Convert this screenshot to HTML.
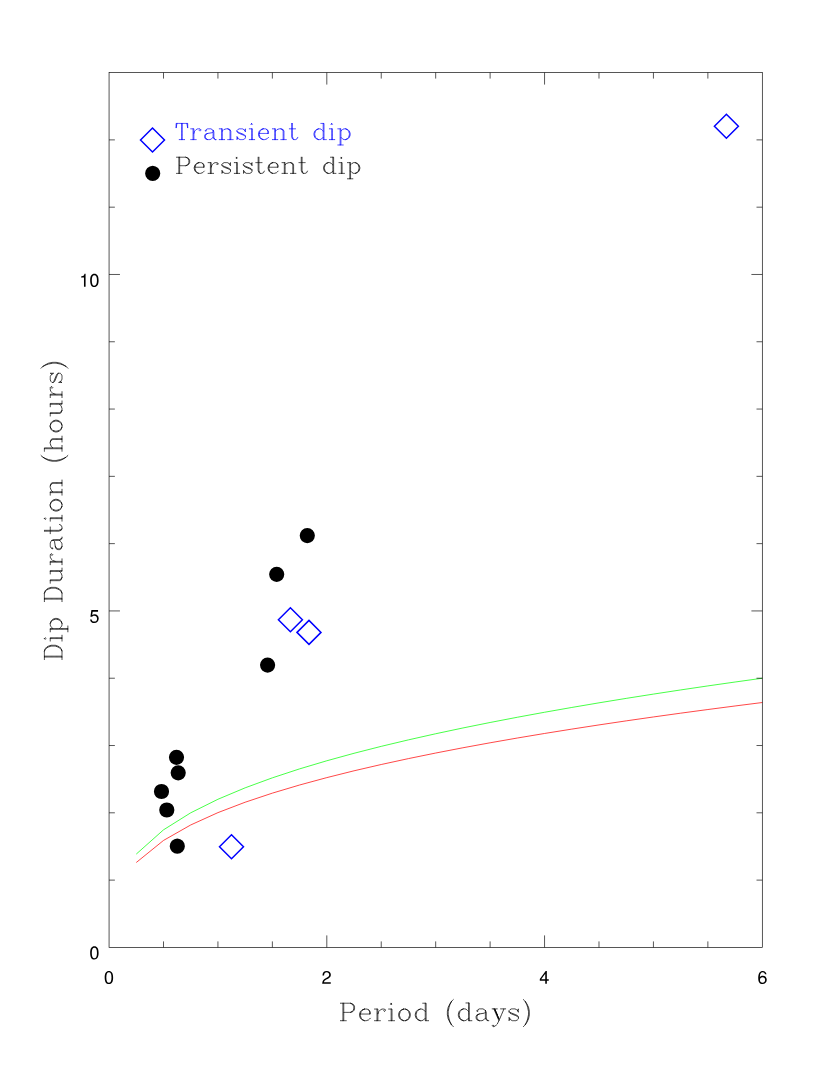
<!DOCTYPE html>
<html><head><meta charset="utf-8"><title>Dip duration vs period</title>
<style>
html,body{margin:0;padding:0;background:#fff;}
body{width:830px;height:1075px;overflow:hidden;font-family:"Liberation Sans",sans-serif;}
svg{display:block}
</style></head><body>
<svg width="830" height="1075" viewBox="0 0 830 1075" role="img" aria-label="Dip Duration (hours) versus Period (days): transient and persistent dips">
<rect width="830" height="1075" fill="#fff"/>
<defs>
<path id="g0" d="M11 -25l-1 1l-1 1l-1 2l-1 2l-1 3l-1 5l0 1l0 1l0 1l0 1l1 5l1 3l1 2l1 2l-2 -3l-1 -2l-1 -2l-1 -5l0 -1l0 -1l0 -1l0 -1l1 -5l1 -2l1 -2l2 -3M9 5l1 1l1 1"/>
<path id="g1" d="M3 -25l1 1l1 1l1 2l1 2l1 3l1 5l0 1l0 1l0 1l0 1l-1 5l-1 3l-1 2l-1 2l2 -3l1 -2l1 -2l1 -5l0 -1l0 -1l0 -1l0 -1l-1 -5l-1 -2l-1 -2l-2 -3M5 5l-1 1l-1 1"/>
<path id="g2" d="M2 -21l1 0l1 0l1 0l1 0l1 0l1 0l1 0l1 0l1 0l1 0l2 1l1 1l1 1l1 2l1 3l0 1l0 1l0 1l0 1l0 1l-1 3l-1 2l-1 1l-1 1l-2 1l3 -1l1 -1l1 -1l1 -2l1 -3l0 -1l0 -1l0 -1l0 -1l0 -1l-1 -3l-1 -2l-1 -1l-1 -1l-3 -1M5 -21l0 1l0 1l0 1l0 1l0 1l0 1l0 1l0 1l0 1l0 1l0 1l0 1l0 1l0 1l0 1l0 1l0 1l0 1l0 1l0 1l0 1l-1 0l-1 0l-1 0M6 -21l0 1l0 1l0 1l0 1l0 1l0 1l0 1l0 1l0 1l0 1l0 1l0 1l0 1l0 1l0 1l0 1l0 1l0 1l0 1l0 1l0 1l-1 0M6 0l1 0l1 0l1 0l1 0l1 0l1 0"/>
<path id="g3" d="M2 -21l1 0l1 0l1 0l1 0l1 0l1 0l1 0l1 0l1 0l1 0l1 0l1 0l2 1l1 1l1 2l0 1l0 1l0 1l-1 2l-1 1l-2 1l3 -1l1 -1l1 -2l0 -1l0 -1l0 -1l-1 -2l-1 -1l-3 -1M5 -21l0 1l0 1l0 1l0 1l0 1l0 1l0 1l0 1l0 1l0 1l0 1l0 1l0 1l0 1l0 1l0 1l0 1l0 1l0 1l0 1l0 1l-1 0l-1 0l-1 0M6 -21l0 1l0 1l0 1l0 1l0 1l0 1l0 1l0 1l0 1l0 1l0 1l1 0l1 0l1 0l1 0l1 0l1 0l1 0l1 0M6 -10l0 1l0 1l0 1l0 1l0 1l0 1l0 1l0 1l0 1l0 1l-1 0M6 0l1 0l1 0l1 0"/>
<path id="g4" d="M3 -21l-1 0l0 1l0 1l0 1l0 1l0 1l0 1l1 -6l1 0l1 0l1 0l1 0l1 0l1 0l1 0l1 0l1 0l1 0l1 0l1 0l1 0l1 0l0 1l0 1l0 1l0 1l0 1l0 1l-1 -6M9 -21l0 1l0 1l0 1l0 1l0 1l0 1l0 1l0 1l0 1l0 1l0 1l0 1l0 1l0 1l0 1l0 1l0 1l0 1l0 1l0 1l0 1l-1 0l-1 0l-1 0M10 -21l0 1l0 1l0 1l0 1l0 1l0 1l0 1l0 1l0 1l0 1l0 1l0 1l0 1l0 1l0 1l0 1l0 1l0 1l0 1l0 1l0 1l-1 0M10 0l1 0l1 0l1 0"/>
<path id="g5" d="M14 -12l-1 -1l-2 -1l-1 0l-1 0l-1 0l-1 0l-2 1l-1 1l0 1l1 0l0 -1M14 -12l0 1l0 1l-1 1l-6 1l-3 1l-1 2l0 1l0 1l1 2l3 1l-2 -1l-1 -2l0 -1l0 -1l1 -2l2 -1M14 -12l1 2l0 1l0 1l0 1l0 1l0 1l0 1l0 1l1 2l1 1l-2 -1l-1 -2l0 -1l0 -1l0 -1l0 -1l0 -1l0 -1l0 -1M14 -3l-1 1l-1 1l-2 1l-1 0l-1 0l-1 0M17 0l1 0"/>
<path id="g6" d="M12 -21l1 0l1 0l1 0l1 0l0 1l0 1l0 1l0 1l0 1l0 1l0 1l0 1l0 1l0 1l0 1l0 1l0 1l0 1l0 1l0 1l0 1l0 1l0 1l0 1l0 1l-1 0l0 -1l0 -1l0 -1l0 -1l0 -1l0 -1l0 -1l0 -1l0 -1l0 -1l0 -1l-1 -1l-1 -1l-2 -1l-1 0l-1 0l-3 1l-1 1l-1 1l-1 3l0 1l0 1l1 3l1 1l1 1l3 1l-2 -1l-1 -1l-1 -1l-1 -3l0 -1l0 -1l1 -3l1 -1l1 -1l2 -1M15 -21l0 1l0 1l0 1l0 1l0 1l0 1l0 1l0 1l0 1l0 1M15 -3l-1 1l-1 1l-2 1l-1 0l-1 0M16 0l1 0l1 0l1 0"/>
<path id="g7" d="M9 -14l1 0l1 0l1 0l2 1l1 1l1 2l0 1l0 1l-1 0l0 -1l0 -1l0 -1l-1 -2M9 -14l-3 1l-1 1l-1 1l-1 3l0 1l0 1l1 3l1 1l1 1l3 1l-2 -1l-1 -1l-1 -1l-1 -3l0 -1l0 -1l1 -3l1 -1l1 -1l2 -1M4 -8l1 0l1 0l1 0l1 0l1 0l1 0l1 0l1 0l1 0l1 0l1 0M16 -3l-1 1l-1 1l-3 1l-1 0l-1 0"/>
<path id="g8" d="M2 -21l1 0l1 0l1 0l1 0l0 1l0 1l0 1l0 1l0 1l0 1l0 1l0 1l0 1l0 1l1 -1l1 -1l3 -1l1 0l1 0l2 1l1 2l0 1l0 1l0 1l0 1l0 1l0 1l0 1l0 1l0 1l0 1l0 1l-1 0l-1 0l-1 0M5 -21l0 1l0 1l0 1l0 1l0 1l0 1l0 1l0 1l0 1l0 1l0 1l0 1l0 1l0 1l0 1l0 1l0 1l0 1l0 1l0 1l0 1l-1 0l-1 0l-1 0M13 -14l3 1l1 2l0 1l0 1l0 1l0 1l0 1l0 1l0 1l0 1l0 1l0 1l0 1l-1 0M6 -11l0 1l0 1l0 1l0 1l0 1l0 1l0 1l0 1l0 1l0 1l0 1l-1 0M6 0l1 0l1 0l1 0M17 0l1 0l1 0l1 0"/>
<path id="g9" d="M2 -14l1 0l1 0l1 0l1 0l0 1l0 1l0 1l0 1l0 1l0 1l0 1l0 1l0 1l0 1l0 1l0 1l0 1l0 1l-1 0l0 -1l0 -1l0 -1l0 -1l0 -1l0 -1l0 -1l0 -1l0 -1l0 -1l0 -1l0 -1l0 -1l0 -1M5 0l-1 0l-1 0l-1 0M6 0l1 0l1 0l1 0M5 -21l-1 1l1 1l1 -1l-1 -1"/>
<path id="g10" d="M2 -14l1 0l1 0l1 0l1 0l0 1l0 1l0 1l1 -1l1 -1l3 -1l1 0l1 0l2 1l1 2l0 1l0 1l0 1l0 1l0 1l0 1l0 1l0 1l0 1l0 1l0 1l-1 0l-1 0l-1 0M5 -14l0 1l0 1l0 1l0 1l0 1l0 1l0 1l0 1l0 1l0 1l0 1l0 1l0 1l0 1l-1 0l-1 0l-1 0M13 -14l3 1l1 2l0 1l0 1l0 1l0 1l0 1l0 1l0 1l0 1l0 1l0 1l0 1l-1 0M6 -11l0 1l0 1l0 1l0 1l0 1l0 1l0 1l0 1l0 1l0 1l0 1l-1 0M6 0l1 0l1 0l1 0M17 0l1 0l1 0l1 0"/>
<path id="g11" d="M9 -14l1 0l1 0l2 1l1 1l1 1l1 3l0 1l0 1l-1 3l-1 1l-1 1l-2 1l3 -1l1 -1l1 -1l1 -3l0 -1l0 -1l-1 -3l-1 -1l-1 -1l-3 -1M9 -14l-3 1l-1 1l-1 1l-1 3l0 1l0 1l1 3l1 1l1 1l3 1l-2 -1l-1 -1l-1 -1l-1 -3l0 -1l0 -1l1 -3l1 -1l1 -1l2 -1M9 0l1 0l1 0"/>
<path id="g12" d="M2 -14l1 0l1 0l1 0l1 0l0 1l0 1l0 1l1 -1l1 -1l2 -1l1 0l1 0l2 1l1 1l1 1l1 3l0 1l0 1l-1 3l-1 1l-1 1l-2 1l3 -1l1 -1l1 -1l1 -3l0 -1l0 -1l-1 -3l-1 -1l-1 -1l-3 -1M5 -14l0 1l0 1l0 1l0 1l0 1l0 1l0 1l0 1l0 1l0 1l0 1l0 1l0 1l0 1l0 1l0 1l0 1l0 1l0 1l0 1l0 1l-1 0l-1 0l-1 0M6 -11l0 1l0 1l0 1l0 1l0 1l0 1l0 1l0 1l0 1l0 1l0 1l0 1l0 1l0 1l0 1l0 1l0 1l0 1l-1 0M6 -3l1 1l1 1l2 1l1 0l1 0M6 7l1 0l1 0l1 0"/>
<path id="g13" d="M2 -14l1 0l1 0l1 0l1 0l0 1l0 1l0 1l0 1l0 1l0 1l1 -3l1 -1l1 -1l2 -1l1 0l1 0l1 0l1 1l0 1l-1 1l-1 -1l1 -1M5 -14l0 1l0 1l0 1l0 1l0 1l0 1l0 1l0 1l0 1l0 1l0 1l0 1l0 1l0 1l-1 0l-1 0l-1 0M6 -8l0 1l0 1l0 1l0 1l0 1l0 1l0 1l0 1l-1 0M6 0l1 0l1 0l1 0"/>
<path id="g14" d="M13 -12l1 -2l0 1l0 1l0 1l0 1l-1 -2l-1 -1l-2 -1l-1 0l-1 0l-1 0l-1 0l-2 1l-1 1l0 1l0 1l1 1l2 1l5 2l2 1l1 1l0 -1l-1 -1l-2 -1l-5 -2l-2 -1l-1 -1M14 -4l0 1l0 1l-1 1l-2 1l-1 0l-1 0l-1 0l-1 0l-2 -1l-1 -1l-1 -2l0 1l0 1l0 1l0 1l1 -2"/>
<path id="g15" d="M5 -21l0 1l0 1l0 1l0 1l0 1l0 1l0 1l-1 0l-1 0l-1 0M6 -21l0 1l0 1l0 1l0 1l0 1l0 1l0 1l-1 0l0 1l0 1l0 1l0 1l0 1l0 1l0 1l0 1l0 1l0 1l1 3l2 1l-1 -1l-1 -3l0 -1l0 -1l0 -1l0 -1l0 -1l0 -1l0 -1l0 -1l0 -1l0 -1l1 0l1 0l1 0l1 0M13 -3l-1 2l-2 1l-1 0l-1 0"/>
<path id="g16" d="M2 -14l1 0l1 0l1 0l1 0l0 1l0 1l0 1l0 1l0 1l0 1l0 1l0 1l0 1l0 1l0 1l1 2l2 1l-3 -1l-1 -2l0 -1l0 -1l0 -1l0 -1l0 -1l0 -1l0 -1l0 -1l0 -1l0 -1l0 -1M13 -14l1 0l1 0l1 0l1 0l0 1l0 1l0 1l0 1l0 1l0 1l0 1l0 1l0 1l0 1l0 1l0 1l0 1l0 1l-1 0l0 -1l0 -1l0 -1l0 -1l0 -1l0 -1l0 -1l0 -1l0 -1l0 -1l0 -1l0 -1l0 -1l0 -1M16 -3l-1 1l-1 1l-3 1l-1 0l-1 0M17 0l1 0l1 0l1 0"/>
<path id="g17" d="M2 -14l1 0l1 0l1 0l1 0l1 0l1 0M4 -14l3 7l3 7l3 -7l3 -7l-1 0l-1 0l-1 0l-1 0M5 -14l2 5l1 2l-3 -7l5 12l-3 -7M8 -7l2 5M16 -14l1 0l1 0M10 0l-1 2l-1 2l-1 1l-1 1l-2 1l-1 0l-1 -1l1 -1l1 1"/>
<path id="d0" d="M507 341C507 587 429 709 275 709C122 709 43 585 43 347C43 108 123 -15 275 -15C425 -15 507 108 507 341ZM417 349C417 148 371 58 273 58C180 58 133 152 133 346C133 540 180 631 275 631C370 631 417 539 417 349Z"/>
<path id="d1" d="M347 0V709H289C258 600 238 585 102 568V505H259V0Z"/>
<path id="d2" d="M511 501C511 621 418 709 284 709C139 709 55 635 50 463H138C145 582 194 632 281 632C361 632 421 575 421 499C421 443 388 395 325 359L233 307C85 223 42 156 34 0H506V87H133C142 145 174 182 261 233L361 287C460 340 511 414 511 501Z"/>
<path id="d4" d="M520 170V249H415V709H350L28 263V170H327V0H415V170ZM327 249H105L327 559Z"/>
<path id="d5" d="M513 235C513 375 420 467 284 467C234 467 194 454 153 424L181 607H476V694H110L57 323H138C179 372 213 389 268 389C363 389 423 328 423 223C423 121 364 63 268 63C191 63 144 102 123 182H35C64 41 144 -15 270 -15C413 -15 513 85 513 235Z"/>
<path id="d6" d="M513 220C513 352 423 441 296 441C226 441 171 414 133 362C134 535 190 631 291 631C353 631 396 592 410 524H498C481 640 405 709 297 709C132 709 43 570 43 323C43 102 119 -15 281 -15C416 -15 513 81 513 220ZM423 213C423 124 363 63 282 63C200 63 138 127 138 218C138 306 198 363 285 363C370 363 423 308 423 213Z"/>
</defs>
<polyline points="136.28,854.08 163.50,829.83 190.72,812.81 217.93,799.27 245.15,787.83 272.37,777.83 299.59,768.89 326.81,760.77 354.02,753.29 381.24,746.35 408.46,739.87 435.68,733.76 462.90,727.98 490.12,722.49 517.34,717.26 544.55,712.26 571.77,707.46 598.99,702.84 626.21,698.39 653.43,694.10 680.64,689.95 707.86,685.92 735.08,682.02 762.30,678.23" fill="none" stroke="#00ff00" stroke-width="0.72"/>
<polyline points="136.28,862.51 163.50,840.44 190.72,824.96 217.93,812.64 245.15,802.23 272.37,793.14 299.59,785.00 326.81,777.61 354.02,770.81 381.24,764.50 408.46,758.60 435.68,753.04 462.90,747.78 490.12,742.79 517.34,738.03 544.55,733.48 571.77,729.11 598.99,724.91 626.21,720.87 653.43,716.96 680.64,713.18 707.86,709.52 735.08,705.97 762.30,702.52" fill="none" stroke="#ff0000" stroke-width="0.72"/>
<rect x="109.06" y="72.59" width="653.24" height="874.81" fill="none" stroke="#000" stroke-width="0.66"/>
<path d="M163.50 947.40v-6M163.50 72.59v6M217.93 947.40v-6M217.93 72.59v6M272.37 947.40v-6M272.37 72.59v6M326.81 947.40v-12M326.81 72.59v12M381.24 947.40v-6M381.24 72.59v6M435.68 947.40v-6M435.68 72.59v6M490.12 947.40v-6M490.12 72.59v6M544.55 947.40v-12M544.55 72.59v12M598.99 947.40v-6M598.99 72.59v6M653.43 947.40v-6M653.43 72.59v6M707.86 947.40v-6M707.86 72.59v6M109.06 880.11h5.8M762.30 880.11h-5.8M109.06 812.81h5.8M762.30 812.81h-5.8M109.06 745.52h5.8M762.30 745.52h-5.8M109.06 678.23h5.8M762.30 678.23h-5.8M109.06 610.93h10.9M762.30 610.93h-10.9M109.06 543.64h5.8M762.30 543.64h-5.8M109.06 476.35h5.8M762.30 476.35h-5.8M109.06 409.06h5.8M762.30 409.06h-5.8M109.06 341.76h5.8M762.30 341.76h-5.8M109.06 274.47h10.9M762.30 274.47h-10.9M109.06 207.18h5.8M762.30 207.18h-5.8M109.06 139.88h5.8M762.30 139.88h-5.8" fill="none" stroke="#000" stroke-width="0.66"/>
<g aria-label="0" transform="translate(103.90 983.85) scale(0.01820 -0.01820)" fill="#000"><use href="#d0" x="0"/></g>
<g aria-label="2" transform="translate(321.55 983.85) scale(0.01820 -0.01820)" fill="#000"><use href="#d2" x="0"/></g>
<g aria-label="4" transform="translate(539.29 983.85) scale(0.01820 -0.01820)" fill="#000"><use href="#d4" x="0"/></g>
<g aria-label="6" transform="translate(757.44 983.85) scale(0.01820 -0.01820)" fill="#000"><use href="#d6" x="0"/></g>
<g aria-label="0" transform="translate(89.38 959.25) scale(0.01820 -0.01820)" fill="#000"><use href="#d0" x="0"/></g>
<g aria-label="5" transform="translate(89.38 622.73) scale(0.01820 -0.01820)" fill="#000"><use href="#d5" x="0"/></g>
<g aria-label="10" transform="translate(79.26 286.72) scale(0.01820 -0.01820)" fill="#000"><use href="#d1" x="0"/><use href="#d0" x="556"/></g>
<path d="M184.1 757.3L183.5 760.2L181.9 762.7L179.4 764.3L176.5 764.9L173.6 764.3L171.1 762.7L169.5 760.2L168.9 757.3L169.5 754.4L171.1 751.9L173.6 750.3L176.5 749.7L179.4 750.3L181.9 751.9L183.5 754.4ZM185.8 772.8L185.2 775.7L183.6 778.2L181.1 779.8L178.2 780.4L175.3 779.8L172.8 778.2L171.2 775.7L170.6 772.8L171.2 769.9L172.8 767.4L175.3 765.8L178.2 765.2L181.1 765.8L183.6 767.4L185.2 769.9ZM169.1 791.5L168.5 794.4L166.9 796.9L164.4 798.5L161.5 799.1L158.6 798.5L156.1 796.9L154.5 794.4L153.9 791.5L154.5 788.6L156.1 786.1L158.6 784.5L161.5 783.9L164.4 784.5L166.9 786.1L168.5 788.6ZM174.4 810.0L173.8 812.9L172.2 815.4L169.7 817.0L166.8 817.6L163.9 817.0L161.4 815.4L159.8 812.9L159.2 810.0L159.8 807.1L161.4 804.6L163.9 803.0L166.8 802.4L169.7 803.0L172.2 804.6L173.8 807.1ZM184.9 846.2L184.3 849.1L182.7 851.6L180.2 853.2L177.3 853.8L174.4 853.2L171.9 851.6L170.3 849.1L169.7 846.2L170.3 843.3L171.9 840.8L174.4 839.2L177.3 838.6L180.2 839.2L182.7 840.8L184.3 843.3ZM314.9 535.6L314.3 538.5L312.7 541.0L310.2 542.6L307.3 543.2L304.4 542.6L301.9 541.0L300.3 538.5L299.7 535.6L300.3 532.7L301.9 530.2L304.4 528.6L307.3 528.0L310.2 528.6L312.7 530.2L314.3 532.7ZM284.3 574.3L283.7 577.2L282.1 579.7L279.6 581.3L276.7 581.9L273.8 581.3L271.3 579.7L269.7 577.2L269.1 574.3L269.7 571.4L271.3 568.9L273.8 567.3L276.7 566.7L279.6 567.3L282.1 568.9L283.7 571.4ZM275.2 665.1L274.6 668.0L273.0 670.5L270.5 672.1L267.6 672.7L264.7 672.1L262.2 670.5L260.6 668.0L260.0 665.1L260.6 662.2L262.2 659.7L264.7 658.1L267.6 657.5L270.5 658.1L273.0 659.7L274.6 662.2ZM160.3 173.4L159.7 176.3L158.1 178.8L155.6 180.4L152.7 181.0L149.8 180.4L147.3 178.8L145.7 176.3L145.1 173.4L145.7 170.5L147.3 168.0L149.8 166.4L152.7 165.8L155.6 166.4L158.1 168.0L159.7 170.5Z" fill="#000"/>
<path d="M219.5 846.8l12 -12l12 12l-12 12z" fill="none" stroke="#0000ff" stroke-width="1.5"/>
<path d="M278.4 619.7l12 -12l12 12l-12 12z" fill="none" stroke="#0000ff" stroke-width="1.5"/>
<path d="M297.0 632.4l12 -12l12 12l-12 12z" fill="none" stroke="#0000ff" stroke-width="1.5"/>
<path d="M714.4 126.2l12 -12l12 12l-12 12z" fill="none" stroke="#0000ff" stroke-width="1.5"/>
<path d="M140.5 140.0l12 -12l12 12l-12 12z" fill="none" stroke="#0000ff" stroke-width="1.5"/>
<g aria-label="Transient dip" transform="translate(174.60 139.60) scale(0.7700)" stroke="#0000ff" stroke-width="0.974" fill="none" stroke-linecap="round" stroke-linejoin="round"><use href="#g4" x="0"/><use href="#g13" x="19"/><use href="#g5" x="36"/><use href="#g10" x="56"/><use href="#g14" x="78"/><use href="#g9" x="95"/><use href="#g7" x="106"/><use href="#g10" x="125"/><use href="#g15" x="147"/><use href="#g6" x="178"/><use href="#g9" x="199"/><use href="#g12" x="210"/></g>
<g aria-label="Persistent dip" transform="translate(175.00 173.40) scale(0.7700)" stroke="#000" stroke-width="0.974" fill="none" stroke-linecap="round" stroke-linejoin="round"><use href="#g3" x="0"/><use href="#g7" x="22"/><use href="#g13" x="41"/><use href="#g14" x="58"/><use href="#g9" x="75"/><use href="#g14" x="86"/><use href="#g15" x="103"/><use href="#g7" x="118"/><use href="#g10" x="137"/><use href="#g15" x="159"/><use href="#g6" x="190"/><use href="#g9" x="211"/><use href="#g12" x="222"/></g>
<g aria-label="Period" transform="translate(338.75 1020.70) scale(0.8320)" stroke="#000" stroke-width="0.901" fill="none" stroke-linecap="round" stroke-linejoin="round"><use href="#g3" x="0"/><use href="#g7" x="22"/><use href="#g13" x="41"/><use href="#g9" x="58"/><use href="#g11" x="69"/><use href="#g6" x="89"/></g>
<g aria-label="(days)" transform="translate(444.00 1020.70) scale(0.8450)" stroke="#000" stroke-width="0.888" fill="none" stroke-linecap="round" stroke-linejoin="round"><use href="#g0" x="0"/><use href="#g6" x="14"/><use href="#g5" x="35"/><use href="#g17" x="55"/><use href="#g14" x="74"/><use href="#g1" x="91"/></g>
<g aria-label="Dip" transform="translate(62.00 661.20) rotate(-90) scale(0.8385)" stroke="#000" stroke-width="0.894" fill="none" stroke-linecap="round" stroke-linejoin="round"><use href="#g2" x="0"/><use href="#g9" x="22"/><use href="#g12" x="33"/></g>
<g aria-label="Duration" transform="translate(62.00 603.30) rotate(-90) scale(0.8385)" stroke="#000" stroke-width="0.894" fill="none" stroke-linecap="round" stroke-linejoin="round"><use href="#g2" x="0"/><use href="#g16" x="22"/><use href="#g13" x="44"/><use href="#g5" x="61"/><use href="#g15" x="81"/><use href="#g9" x="96"/><use href="#g11" x="107"/><use href="#g10" x="127"/></g>
<g aria-label="(hours)" transform="translate(62.00 464.65) rotate(-90) scale(0.8385)" stroke="#000" stroke-width="0.894" fill="none" stroke-linecap="round" stroke-linejoin="round"><use href="#g0" x="0"/><use href="#g8" x="14"/><use href="#g11" x="36"/><use href="#g16" x="56"/><use href="#g13" x="78"/><use href="#g14" x="95"/><use href="#g1" x="112"/></g>
</svg>
</body></html>
